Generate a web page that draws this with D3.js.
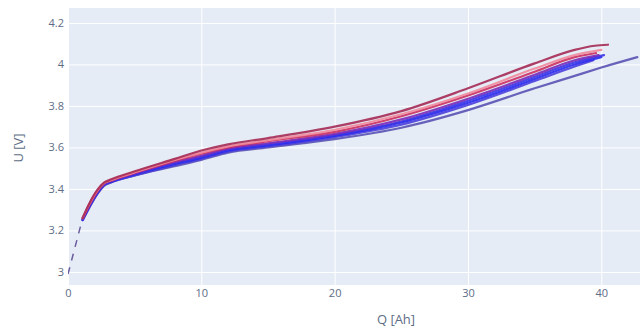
<!DOCTYPE html>
<html>
<head>
<meta charset="utf-8">
<script src="https://cdn.jsdelivr.net/npm/d3@7"></script>
<style>
  html, body { margin: 0; padding: 0; background: #ffffff; }
  svg { display: block; }
  text { font-family: "Open Sans", "DejaVu Sans", sans-serif; }
</style>
</head>
<body>
<svg id="chart" width="640" height="332"></svg>
<script>
// ---- data ----
const xTicks = [0, 10, 20, 30, 40];
const yTicks = [3, 3.2, 3.4, 3.6, 3.8, 4, 4.2];
const xLabel = "Q [Ah]";
const yLabel = "U [V]";

// initial steep part (shared, drawn dashed)
const startSegment = [[0, 2.99], [1.1, 3.26]];

const seriesNames = ["c8", "c7", "c6", "c5", "c4", "c3", "c2", "c1"];
const seriesColors = ["#5a52b4", "#4b3fdc", "#2828f0", "#3a34e6", "#7a2ab8", "#cc3060", "#f08a9c", "#a52a55"];

const s8 = [[1.1,3.25],[1.6,3.31],[2.2,3.375],[2.7,3.415],[3.2,3.43],[5,3.465],[8,3.51],[10,3.54],[12,3.575],[15,3.60],[20,3.64],[25,3.695],[30,3.78],[35,3.885],[38,3.945],[40,3.985],[42.7,4.035]];
const s7 = [[1.1,3.25],[1.6,3.312],[2.2,3.378],[2.7,3.418],[3.2,3.432],[5,3.465],[8,3.515],[10,3.545],[12,3.58],[15,3.605],[20,3.65],[25,3.71],[30,3.805],[35,3.92],[38,3.99],[39.4,4.02]];
const s6 = [[1.1,3.25],[1.6,3.315],[2.2,3.38],[2.7,3.42],[3.2,3.434],[5,3.47],[8,3.52],[10,3.55],[12,3.585],[15,3.61],[20,3.655],[25,3.72],[30,3.815],[35,3.93],[38,4.00],[40.0,4.035]];
const s5 = [[1.1,3.255],[1.6,3.318],[2.2,3.383],[2.7,3.422],[3.2,3.436],[5,3.472],[8,3.525],[10,3.555],[12,3.59],[15,3.615],[20,3.66],[25,3.725],[30,3.825],[35,3.94],[38,4.01],[40.2,4.045]];
const s4 = [[1.1,3.255],[1.6,3.32],[2.2,3.386],[2.7,3.424],[3.2,3.438],[5,3.475],[8,3.53],[10,3.56],[12,3.595],[15,3.62],[20,3.665],[25,3.735],[30,3.835],[35,3.95],[38,4.02],[39.8,4.045]];
const s3 = [[1.1,3.26],[1.6,3.325],[2.2,3.39],[2.7,3.427],[3.2,3.44],[5,3.478],[8,3.535],[10,3.57],[12,3.60],[15,3.63],[20,3.675],[25,3.75],[30,3.85],[35,3.965],[38,4.035],[39.6,4.055]];
const s2 = [[1.1,3.26],[1.6,3.327],[2.2,3.392],[2.7,3.428],[3.2,3.442],[5,3.48],[8,3.54],[10,3.575],[12,3.605],[15,3.635],[20,3.685],[25,3.76],[30,3.86],[35,3.98],[38,4.045],[40.0,4.07]];
const s1 = [[1.1,3.26],[1.6,3.33],[2.2,3.395],[2.7,3.43],[3.2,3.445],[5,3.485],[8,3.545],[10,3.585],[12,3.615],[15,3.645],[20,3.70],[25,3.775],[30,3.885],[35,4.005],[38,4.07],[39.5,4.09],[40.5,4.095]];
const seriesValues = [s8, s7, s6, s5, s4, s3, s2, s1];

// ---- layout ----
const svg = d3.select("#chart");
const plot = { left: 68, right: 640, top: 8, bottom: 285 };

const x = d3.scaleLinear().domain([0, 42.9]).range([plot.left, plot.right]);
const y = d3.scaleLinear().domain([2.937, 4.272]).range([plot.bottom, plot.top]);

svg.append("rect")
  .attr("x", plot.left).attr("y", plot.top)
  .attr("width", plot.right - plot.left).attr("height", plot.bottom - plot.top)
  .attr("fill", "#e5ecf6");

// grid
const xGrid = d3.axisBottom(x).tickValues(xTicks).tickSize(-(plot.bottom - plot.top)).tickFormat("");
svg.append("g").attr("transform", `translate(0,${plot.bottom})`).call(xGrid)
  .call(g => g.select(".domain").remove())
  .call(g => g.selectAll("line").attr("stroke", "#ffffff").attr("stroke-width", 1));
const yGrid = d3.axisLeft(y).tickValues(yTicks).tickSize(-(plot.right - plot.left)).tickFormat("");
svg.append("g").attr("transform", `translate(${plot.left},0)`).call(yGrid)
  .call(g => g.select(".domain").remove())
  .call(g => g.selectAll("line").attr("stroke", "#ffffff").attr("stroke-width", 1));

// axes labels
const xAxis = d3.axisBottom(x).tickValues(xTicks).tickSize(0).tickPadding(4).tickFormat(d3.format("d"));
svg.append("g").attr("transform", `translate(0,${plot.bottom})`).call(xAxis)
  .call(g => g.select(".domain").remove())
  .call(g => g.selectAll("text").attr("fill", "#5d6d86").style("font-size", "11px").attr("font-family", "Open Sans"));

const yAxis = d3.axisLeft(y).tickValues(yTicks).tickSize(0).tickPadding(4).tickFormat(d => d3.format("")(+d.toFixed(1)));
svg.append("g").attr("transform", `translate(${plot.left},0)`).call(yAxis)
  .call(g => g.select(".domain").remove())
  .call(g => g.selectAll("text").attr("fill", "#5d6d86").style("font-size", "11px").attr("font-family", "Open Sans"));

svg.append("text").attr("x", 396).attr("y", 324).attr("text-anchor", "middle")
  .attr("fill", "#5d6d86").style("font-size", "13px").text(xLabel);
svg.append("text").attr("transform", "translate(23,148) rotate(-90)").attr("text-anchor", "middle")
  .attr("fill", "#5d6d86").style("font-size", "13px").text(yLabel);

// lines
const clip = svg.append("clipPath").attr("id", "clip").append("rect")
  .attr("x", plot.left).attr("y", plot.top)
  .attr("width", plot.right - plot.left).attr("height", plot.bottom - plot.top);
const lines = svg.append("g").attr("clip-path", "url(#clip)");
const line = d3.line().x(d => x(d[0])).y(d => y(d[1])).curve(d3.curveMonotoneX);

lines.append("path").datum(startSegment)
  .attr("d", d3.line().x(d => x(d[0])).y(d => y(d[1])))
  .attr("fill", "none").attr("stroke", "#6a5c9e").attr("stroke-width", 1.5)
  .attr("stroke-dasharray", "7,7");

seriesValues.forEach((s, i) => {
  lines.append("path").datum(s)
    .attr("d", line)
    .attr("fill", "none")
    .attr("stroke", seriesColors[i])
    .attr("stroke-width", 2.2)
    .attr("stroke-linejoin", "round")
    .attr("stroke-linecap", "round")
    .attr("opacity", 0.9)
    .attr("data-name", seriesNames[i]);
});
</script>
</body>
</html>
